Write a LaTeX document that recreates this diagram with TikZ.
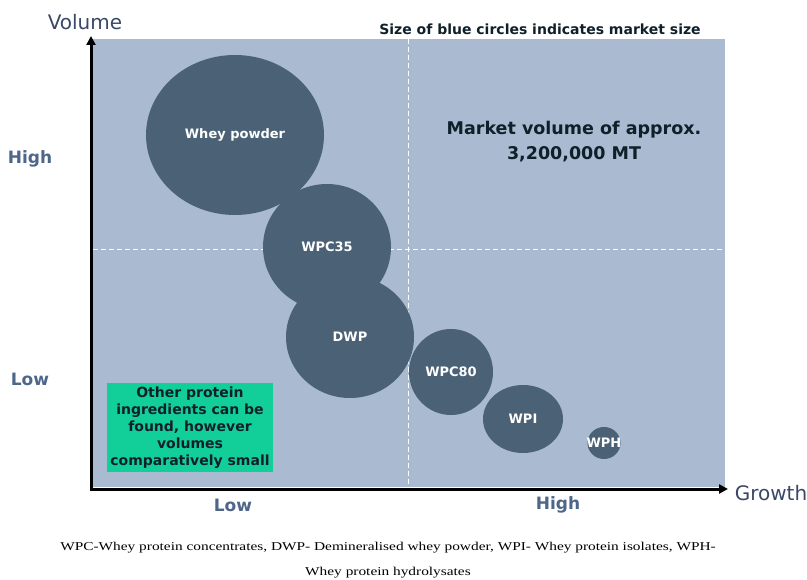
\documentclass[tikz,border=0pt]{standalone}
\usepackage{fontspec}
\setmainfont{DejaVu Sans}
\newfontfamily\capfont[FakeStretch=1.28]{Liberation Serif}
\usetikzlibrary{arrows.meta,shapes.geometric}
\definecolor{panel}{HTML}{AABBD1}
\definecolor{bubblefill}{HTML}{4A6176}
\definecolor{notegreen}{HTML}{12CF9A}
\definecolor{notetext}{HTML}{10202A}
\definecolor{ticklab}{HTML}{4E6688}
\definecolor{axislab}{HTML}{3A4766}
\tikzset{
  bubble/.style={ellipse, fill=bubblefill, inner sep=0pt},
  bubtext/.style={text=white, font=\fontsize{13}{15}\selectfont\bfseries},
  tick/.style={text=ticklab, font=\fontsize{17}{20}\selectfont\bfseries},
  axisname/.style={text=axislab, font=\fontsize{20}{23}\selectfont},
  axis/.style={line width=3pt, line cap=rect, -{Triangle[length=9pt,width=9pt]}},
  guide/.style={white, dash pattern=on 5pt off 3pt, line width=0.9pt},
}
\begin{document}
\begin{tikzpicture}[x=1pt, y=-1pt]
  \useasboundingbox (0,0) rectangle (807,580);
  \fill[panel] (93,39) rectangle (725,487);
  \draw[guide] (408,39) -- (408,487);
  \draw[guide] (93,249) -- (725,249);
  % bubbles, sized by market
  \foreach \id/\cx/\cy/\w/\h/\txt in {whey/235/135/178/160/Whey powder,
      wpclow/327/247/128/126/WPC35, dwp/350/337/128/122/DWP,
      wpchigh/451/372/84/86/WPC80, wpi/523/419/80/68/WPI, wph/604/443/33/32/WPH}
  {
    \node[bubble, minimum width=\w pt, minimum height=\h pt] (\id) at (\cx,\cy) {};
    \node[bubtext] at (\id) {\txt};
  }
  \node[font=\fontsize{14}{16}\selectfont\bfseries, text=notetext] (sizenote) at (540,29)
    {Size of blue circles indicates market size};
  \node[font=\fontsize{17.5}{25}\selectfont\bfseries, text=notetext, align=center] (market) at (574,142)
    {Market volume of approx.\\3,200,000 MT};
  \node[fill=notegreen, minimum width=166pt, minimum height=89pt, inner sep=0pt, align=center,
    text=notetext, font=\fontsize{14}{17}\selectfont\bfseries] (othernote) at (190,427.5)
    {Other protein\\ingredients can be\\found, however\\volumes\\comparatively small};
  % axes
  \coordinate (origin) at (91,489);
  \coordinate (ytip) at (91,36);
  \coordinate (xtip) at (728,489);
  \draw[axis] (origin) -- (ytip);
  \draw[axis] (origin) -- (xtip);
  \node[axisname] (volume) at (85,22) {Volume};
  \node[axisname] (growth) at (771,493) {Growth};
  \node[tick] (yhigh) at (30,159) {High};
  \node[tick] (ylow) at (30,379) {Low};
  \node[tick] (xlow) at (233,505) {Low};
  \node[tick] (xhigh) at (558,505) {High};
  \node[font=\capfont\fontsize{12}{25}\selectfont, align=center] (caption) at (388,560)
    {WPC-Whey protein concentrates, DWP- Demineralised whey powder, WPI- Whey protein isolates, WPH-\\
     Whey protein hydrolysates};
\end{tikzpicture}
\end{document}
